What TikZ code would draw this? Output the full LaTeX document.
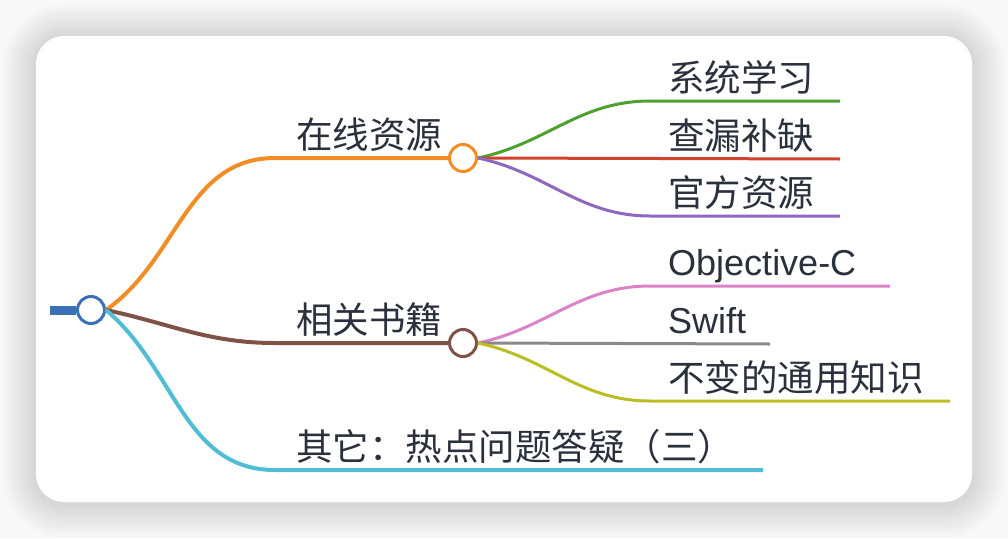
\documentclass[tikz,border=0pt]{standalone}
\usepackage{fontspec}
\setmainfont{Liberation Sans}
\newfontfamily\cjk{Noto Sans CJK SC}
\usetikzlibrary{calc}
\definecolor{ink}{HTML}{2A303C}
\definecolor{rootblue}{HTML}{3C70B4}
\definecolor{online}{HTML}{F28D26}
\definecolor{books}{HTML}{7E5246}
\definecolor{other}{HTML}{4FBDD3}
\definecolor{learn}{HTML}{4EA12F}
\definecolor{gaps}{HTML}{D0432F}
\definecolor{official}{HTML}{8E67C0}
\definecolor{objc}{HTML}{DC82C8}
\definecolor{swiftgray}{HTML}{898989}
\definecolor{general}{HTML}{BABE23}
\definecolor{paper}{HTML}{F8F8F8}

\begin{document}
\begin{tikzpicture}[x=1pt,y=-1pt,
  branch/.style={line width=4pt},
  twig/.style={line width=3pt},
  hub/.style={circle,draw=#1,line width=3pt,fill=white,minimum size=27pt,inner sep=0pt},
  zh/.style={anchor=base west,inner sep=0pt,text=ink,font=\cjk\fontsize{36.5}{42}\selectfont},
  en/.style={anchor=base west,inner sep=0pt,text=ink,font=\fontsize{36}{42}\selectfont}]
% card and its shadow
\fill[paper] (0,0) rectangle (1008,538);
\foreach \d [evaluate=\d as \e using 3*\d, evaluate=\d as \r using 28+3*\d] in {1,...,11}
  \fill[black,opacity=0.011,rounded corners=\r pt] (36-\e,38-\e) rectangle (972+\e,504+\e);
\fill[white,rounded corners=28pt] (36,36) rectangle (972,502);
% hubs
\node[hub=rootblue] (root) at (91,310) {};
\node[hub=online] (hubOnline) at (463,158) {};
\node[hub=books] (hubBooks) at (463,343) {};
\coordinate (stem) at (50,310);
\draw[line width=9pt,rootblue] (stem) -- (root.west);
% main branches
\coordinate (onlineL) at (275,158);
\coordinate (booksL) at (275,343);
\coordinate (otherL) at (275,470);
\coordinate (otherR) at (763,470);
\draw[branch,online] (root.east) to[out=35,in=180] (onlineL) -- (hubOnline.west);
\draw[branch,books] (root.east) to[out=-12,in=180] (booksL) -- (hubBooks.west);
\draw[branch,other] (root.east) to[out=-40,in=180] (otherL) -- (otherR);
\node[zh] (lOnline) at (296,148) {在线资源};
\node[zh] (lBooks) at (296,333) {相关书籍};
\node[zh] (lOther) at (296,460) {其它：热点问题答疑（三）};
% online resources
\coordinate (learnL) at (650,101);
\coordinate (learnR) at (840,101);
\coordinate (gapsR) at (840,159);
\coordinate (officialL) at (650,216);
\coordinate (officialR) at (840,216);
\draw[twig,learn] (hubOnline.east) to[out=12,in=180] (learnL) -- (learnR);
\draw[twig,gaps] (hubOnline.east) -- (gapsR);
\draw[twig,official] (hubOnline.east) to[out=-12,in=180] (officialL) -- (officialR);
\node[zh] (lLearn) at (668,91) {系统学习};
\node[zh] (lGaps) at (668,149) {查漏补缺};
\node[zh] (lOfficial) at (668,206) {官方资源};
% books
\coordinate (objcL) at (650,286);
\coordinate (objcR) at (890,286);
\coordinate (swiftR) at (770,344);
\coordinate (generalL) at (650,401);
\coordinate (generalR) at (950,401);
\draw[twig,objc] (hubBooks.east) to[out=12,in=180] (objcL) -- (objcR);
\draw[twig,swiftgray] (hubBooks.east) -- (swiftR);
\draw[twig,general] (hubBooks.east) to[out=-12,in=180] (generalL) -- (generalR);
\node[en] (lObjc) at (668,275) {Objective-C};
\node[en] (lSwift) at (668,333) {Swift};
\node[zh] (lGeneral) at (668,391) {不变的通用知识};
\end{tikzpicture}
\end{document}
